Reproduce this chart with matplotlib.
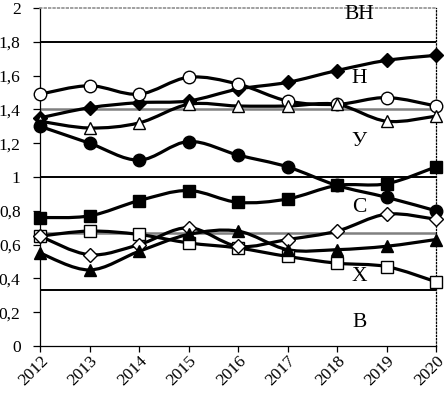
import numpy as np
import matplotlib
matplotlib.use('Agg')
import matplotlib.pyplot as plt
from matplotlib.path import Path
from matplotlib.patches import PathPatch

plt.rcParams['font.family'] = ['Liberation Serif', 'DejaVu Serif']

years = [2012, 2013, 2014, 2015, 2016, 2017, 2018, 2019, 2020]

filled_diamond = [1.35, 1.41, 1.44, 1.45, 1.52, 1.56, 1.63, 1.69, 1.72]
open_circle = [1.49, 1.54, 1.49, 1.59, 1.55, 1.45, 1.43, 1.47, 1.42]
open_triangle = [1.33, 1.29, 1.32, 1.43, 1.42, 1.42, 1.43, 1.33, 1.36]
filled_circle = [1.30, 1.20, 1.10, 1.21, 1.13, 1.06, 0.95, 0.88, 0.80]
filled_square = [0.76, 0.77, 0.86, 0.92, 0.85, 0.87, 0.95, 0.96, 1.06]
open_square = [0.65, 0.68, 0.66, 0.61, 0.58, 0.53, 0.49, 0.47, 0.38]
open_diamond = [0.65, 0.54, 0.60, 0.70, 0.59, 0.63, 0.68, 0.78, 0.75]
filled_triangle = [0.55, 0.45, 0.56, 0.66, 0.68, 0.57, 0.57, 0.59, 0.63]

black_levels = [1.8, 1.0, 1/3]
gray_levels = [1.4, 2/3]

zone_labels = ['ВН', 'Н', 'У', 'С', 'Х', 'В']
zone_y = [1.96, 1.58, 1.21, 0.82, 0.41, 0.14]

yticks = [0, 0.2, 0.4, 0.6, 0.8, 1.0, 1.2, 1.4, 1.6, 1.8, 2.0]


def smooth_path(x, y):
    # Excel-like smoothed line as cubic bezier segments
    p = np.column_stack([x, y]).astype(float)
    n = len(p)
    verts = [p[0]]
    codes = [Path.MOVETO]
    for i in range(n - 1):
        p0 = p[i - 1] if i > 0 else p[i]
        p3 = p[i + 2] if i + 2 < n else p[i + 1]
        c1 = p[i] + (p[i + 1] - p0) / 6.
        c2 = p[i + 1] - (p3 - p[i]) / 6.
        verts += [c1, c2, p[i + 1]]
        codes += [Path.CURVE4] * 3
    return Path(verts, codes)


fig = plt.figure(figsize=(4.46, 3.95), dpi=100)
ax = fig.add_axes([40/446, 1-346/395, 396/446, 338/395])

for lv in black_levels:
    ax.axhline(lv, color='black', lw=1.4, zorder=1)
for lv in gray_levels:
    ax.axhline(lv, color='#808080', lw=1.8, zorder=1)

series = [
    (filled_diamond, 'D', 'black'),
    (open_circle, 'o', 'white'),
    (open_triangle, '^', 'white'),
    (filled_circle, 'o', 'black'),
    (filled_square, 's', 'black'),
    (open_square, 's', 'white'),
    (open_diamond, 'D', 'white'),
    (filled_triangle, '^', 'black'),
]

for vals, mk, fc in series:
    patch = PathPatch(smooth_path(years, vals), facecolor='none',
                      edgecolor='black', lw=2.3, zorder=2, clip_on=False)
    ax.add_patch(patch)
for vals, mk, fc in series:
    ms = 7.5 if mk == 'D' else 9
    ax.plot(years, vals, linestyle='none', marker=mk, ms=ms,
            markerfacecolor=fc, markeredgecolor='black', mew=1.0,
            zorder=3, clip_on=False)

for lab, yy in zip(zone_labels, zone_y):
    ax.text(2018.45, yy, lab, fontsize=15.5, ha='center', va='center', zorder=4)

ax.set_xlim(2012, 2020)
ax.set_ylim(0, 2)
ax.set_yticks(yticks)
ax.set_yticklabels([('%g' % v).replace('.', ',') for v in yticks], fontsize=12.5)
ax.set_xticks(years)
ax.set_xticklabels([str(y) for y in years], fontsize=12.5, rotation=45,
                   ha='right', va='top', rotation_mode='anchor')

ax.spines['top'].set_color('#909090')
ax.spines['top'].set_linestyle(':')
ax.spines['top'].set_linewidth(1.2)
ax.spines['right'].set_linestyle(':')
ax.spines['right'].set_linewidth(0.9)
ax.spines['left'].set_linewidth(0.9)
ax.spines['bottom'].set_linewidth(0.9)
ax.tick_params(axis='y', direction='out', length=5, width=0.9, pad=9)
ax.tick_params(axis='x', direction='out', length=4, width=0.9, pad=1)

fig.savefig('out.png', dpi=100)
